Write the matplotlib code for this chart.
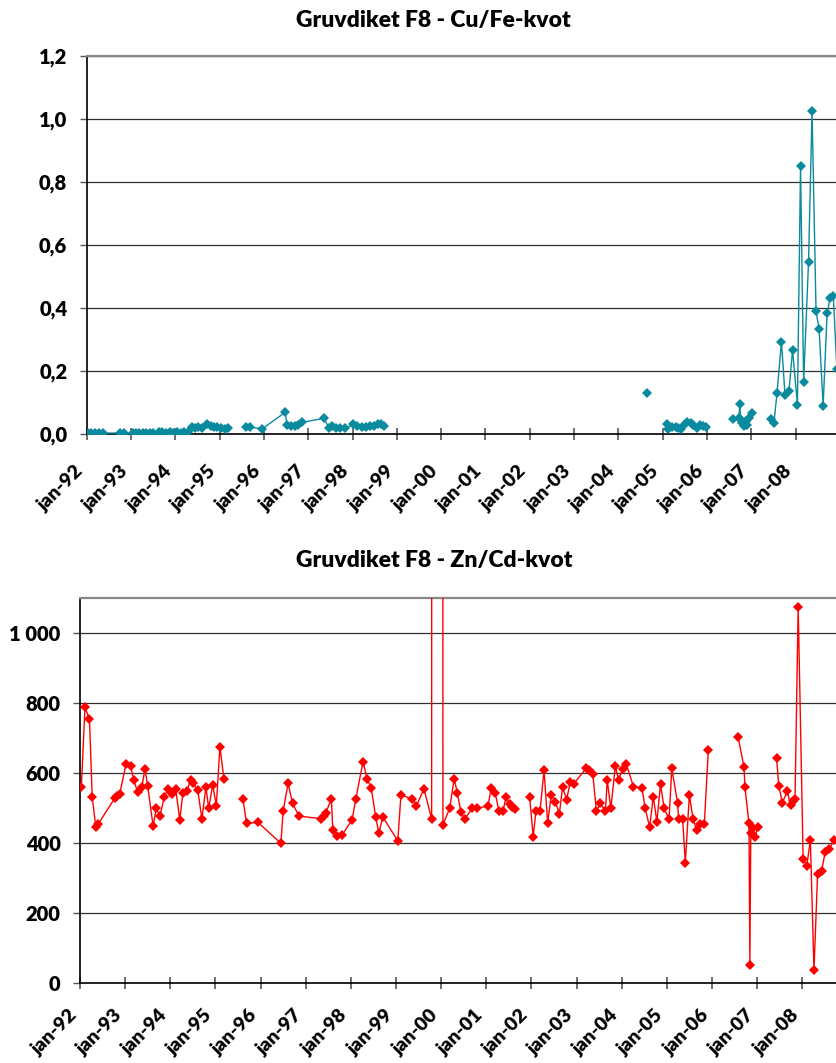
import numpy as np
import matplotlib
matplotlib.use("Agg")
import matplotlib.pyplot as plt

plt.rcParams['font.family'] = ['Lato', 'DejaVu Sans']
plt.rcParams['font.weight'] = 'bold'

nan = np.nan
FW = 'heavy'

# ---------------- data ----------------
years = list(range(1992, 2009))
xtick_labels = ["jan-%02d" % (y % 100) for y in years]

cufe_title = "Gruvdiket F8 - Cu/Fe-kvot"
cufe_yticks = [0.0, 0.2, 0.4, 0.6, 0.8, 1.0, 1.2]
cufe_yticklabels = ["0,0", "0,2", "0,4", "0,6", "0,8", "1,0", "1,2"]
cufe_dates = [
    1992.02, 1992.10, 1992.18, 1992.27, 1992.36, 1992.75, 1992.84,
    1993.04, 1993.12, 1993.19, 1993.27, 1993.34, 1993.42, 1993.49,
    1993.64, 1993.71, 1993.79, 1993.88, 1993.95, 1994.04, 1994.12, 1994.20, 1994.28,
    1994.37, 1994.45, 1994.52, 1994.61, 1994.71, 1994.80, 1994.88, 1994.95, 1995.03,
    1995.11, 1995.18, nan,
    1995.60, 1995.69, 1995.96, 1996.48, 1996.52, 1996.62, 1996.71, 1996.76, 1996.86,
    1997.36, 1997.46, 1997.54, 1997.63, 1997.72, 1997.84, 1998.02, 1998.11, 1998.21,
    1998.31, 1998.40, 1998.48, 1998.57, 1998.65, 1998.72, nan,
    2004.64, nan,
    2005.09, 2005.13, 2005.20, 2005.29, 2005.35, 2005.41, 2005.48, 2005.55, 2005.63,
    2005.69, 2005.77, 2005.84, 2005.92, 2005.98, nan,
    2006.59, 2006.72, 2006.74, 2006.76, 2006.80, 2006.84, 2006.88, 2006.91, 2006.95,
    2007.02, nan,
    2007.44, 2007.51, 2007.58, 2007.68, 2007.76, 2007.85, 2007.93, 2008.04, 2008.11,
    2008.18, 2008.29, 2008.37, 2008.46, 2008.53, 2008.62, 2008.71, 2008.78, 2008.85,
    2008.93,
]
cufe_values = [
    0.003, 0.003, 0.003, 0.003, 0.003, 0.003, 0.003,
    0.003, 0.003, 0.003, 0.003, 0.003, 0.003, 0.003,
    0.005, 0.005, 0.004, 0.006, 0.004, 0.005, 0.004, 0.005, 0.006,
    0.021, 0.018, 0.021, 0.018, 0.031, 0.024, 0.022, 0.022, 0.020,
    0.016, 0.018, nan,
    0.022, 0.022, 0.016, 0.069, 0.029, 0.026, 0.026, 0.029, 0.037,
    0.050, 0.020, 0.024, 0.020, 0.018, 0.018, 0.031, 0.026, 0.022,
    0.022, 0.026, 0.024, 0.033, 0.031, 0.026, nan,
    0.131, nan,
    0.031, 0.016, 0.023, 0.021, 0.020, 0.016, 0.029, 0.037, 0.034,
    0.029, 0.018, 0.029, 0.026, 0.023, nan,
    0.047, 0.050, 0.094, 0.045, 0.034, 0.025, 0.040, 0.030, 0.050,
    0.066, nan,
    0.047, 0.036, 0.131, 0.293, 0.123, 0.137, 0.267, 0.093, 0.852,
    0.165, 0.545, 1.026, 0.390, 0.332, 0.090, 0.384, 0.432, 0.438,
    0.207,
]

zncd_title = "Gruvdiket F8 - Zn/Cd-kvot"
zncd_yticks = [0, 200, 400, 600, 800, 1000]
zncd_yticklabels = ["0", "200", "400", "600", "800", "1 000"]
zncd_dates = [
    1992.03, 1992.11, 1992.21, 1992.27, 1992.35, 1992.40, 1992.77, 1992.83, 1992.88,
    1993.02, 1993.12, 1993.19, 1993.28, 1993.37, 1993.44, 1993.50, 1993.62, 1993.69,
    1993.77, 1993.87, 1993.95, 1994.04, 1994.12, 1994.21, 1994.28, 1994.37, 1994.45,
    1994.51, 1994.61, 1994.70, 1994.79, 1994.85, 1994.94, 1995.02, 1995.10, 1995.19,
    nan,
    1995.61, 1995.69, 1995.94, 1996.45, 1996.50, 1996.61, 1996.71, 1996.85, 1997.35,
    1997.40, 1997.44, 1997.57, 1997.60, 1997.70, 1997.81, 1998.03, 1998.11, 1998.27,
    1998.36, 1998.45, 1998.55, 1998.62, 1998.71, 1999.04, 1999.11, 1999.36, 1999.45,
    1999.62, 1999.79, 1999.80, 2000.03, 2000.04, 2000.19, 2000.29, 2000.36, 2000.44,
    2000.52, 2000.69, 2000.79, 2001.04, 2001.11, 2001.20, 2001.28, 2001.37, 2001.44,
    2001.52, 2001.58, 2001.63, nan,
    2001.96, 2002.04, 2002.10, 2002.19, 2002.28, 2002.36, 2002.44, 2002.53, 2002.62,
    2002.69, 2002.78, 2002.86, 2002.94, 2003.21, 2003.28, 2003.36, 2003.44, 2003.53,
    2003.64, 2003.68, 2003.76, 2003.86, 2003.93, 2004.02, 2004.10, 2004.26, 2004.45,
    2004.52, 2004.62, 2004.70, 2004.78, 2004.86, 2004.94, 2005.05, 2005.11, 2005.24,
    2005.26, 2005.35, 2005.41, 2005.50, 2005.58, 2005.66, 2005.74, 2005.83, 2005.92,
    nan,
    2006.58, 2006.71, 2006.73, 2006.82, 2006.84, 2006.86, 2006.91, 2006.96, 2007.01,
    nan,
    2007.43, 2007.48, 2007.56, 2007.67, 2007.74, 2007.80, 2007.84, 2007.91, 2008.02,
    2008.10, 2008.18, 2008.26, 2008.34, 2008.43, 2008.51, 2008.60, 2008.70, 2008.85,
]
zncd_values = [
    560, 789, 754, 533, 446, 454, 529, 535, 541,
    627, 622, 580, 546, 562, 612, 563, 449, 500,
    478, 533, 555, 542, 556, 467, 544, 549, 582,
    571, 551, 469, 561, 500, 567, 508, 676, 583,
    nan,
    527, 457, 460, 400, 492, 571, 514, 478, 470,
    478, 486, 527, 438, 422, 424, 468, 527, 633,
    584, 559, 476, 430, 475, 407, 538, 527, 506,
    556, 469, 6000, 6000, 453, 500, 585, 543, 489,
    469, 500, 500, 507, 559, 543, 492, 492, 533,
    511, 505, 498, nan,
    533, 419, 491, 491, 609, 459, 537, 519, 485,
    560, 525, 574, 570, 614, 609, 598, 493, 514,
    493, 580, 500, 621, 581, 612, 627, 562, 557,
    500, 446, 533, 462, 569, 500, 469, 614, 514,
    469, 469, 345, 539, 470, 438, 454, 454, 667,
    nan,
    703, 618, 560, 457, 52, 429, 443, 419, 446,
    nan,
    645, 564, 516, 549, 509, 521, 526, 1076, 356,
    335, 409, 37, 312, 322, 376, 383, 409, 425,
]

# ---------------- figure ----------------
W, H = 837, 1063
fig = plt.figure(figsize=(W / 100, H / 100), dpi=100)


def style_axes(ax, yticks, yticklabels, ylim, xlim, xpad):
    ax.set_xlim(*xlim)
    ax.set_ylim(*ylim)
    ax.set_yticks(yticks)
    ax.set_yticklabels(yticklabels, fontsize=14.5, fontweight=FW)
    ax.set_xticks(years)
    ax.set_xticklabels(xtick_labels, fontsize=14, fontweight=FW,
                       rotation=45, ha='right', rotation_mode='default')
    ax.tick_params(axis='y', direction='out', length=5, width=1, pad=9,
                   color='#555555')
    ax.tick_params(axis='x', direction='inout', length=9, width=1.2, pad=xpad,
                   color='#555555')
    ax.yaxis.grid(True, color='#303030', lw=0.9)
    ax.set_axisbelow(True)
    for s in ('left', 'bottom'):
        ax.spines[s].set_color('black')
        ax.spines[s].set_linewidth(1.2)
    ax.spines['top'].set_color('#888888')
    ax.spines['top'].set_linewidth(1.6)
    ax.spines['right'].set_visible(False)
    ax.set_facecolor('white')


# top panel
l1, r1, t1, b1 = 86.7, 837.0, 56.0, 434.0
ax1 = fig.add_axes([l1 / W, 1 - b1 / H, (r1 - l1) / W, (b1 - t1) / H])
style_axes(ax1, cufe_yticks, cufe_yticklabels, (0, 1.2),
           (1992, 1992 + (r1 - l1) / 44.31), 16)
ax1.plot(cufe_dates, cufe_values, color='#0A8A9E', lw=1.0, marker='D',
         markersize=4.8, markeredgewidth=0, zorder=3)
fig.text(433 / W, 1 - 20 / H, cufe_title, ha='center', va='center',
         fontsize=16.5, fontweight=FW)

# bottom panel
l2, r2, t2, b2 = 80.0, 837.0, 598.3, 983.3
ax2 = fig.add_axes([l2 / W, 1 - b2 / H, (r2 - l2) / W, (b2 - t2) / H])
style_axes(ax2, zncd_yticks, zncd_yticklabels, (0, 1100),
           (1992, 1992 + (r2 - l2) / 45.14), 12)
ax2.plot(zncd_dates, zncd_values, color='#FF0000', lw=1.0, marker='D',
         markersize=4.8, markeredgewidth=0, zorder=3)
fig.text(434.7 / W, 1 - 560.7 / H, zncd_title, ha='center', va='center',
         fontsize=16.5, fontweight=FW)

fig.savefig("out.png", dpi=100, facecolor='white')
